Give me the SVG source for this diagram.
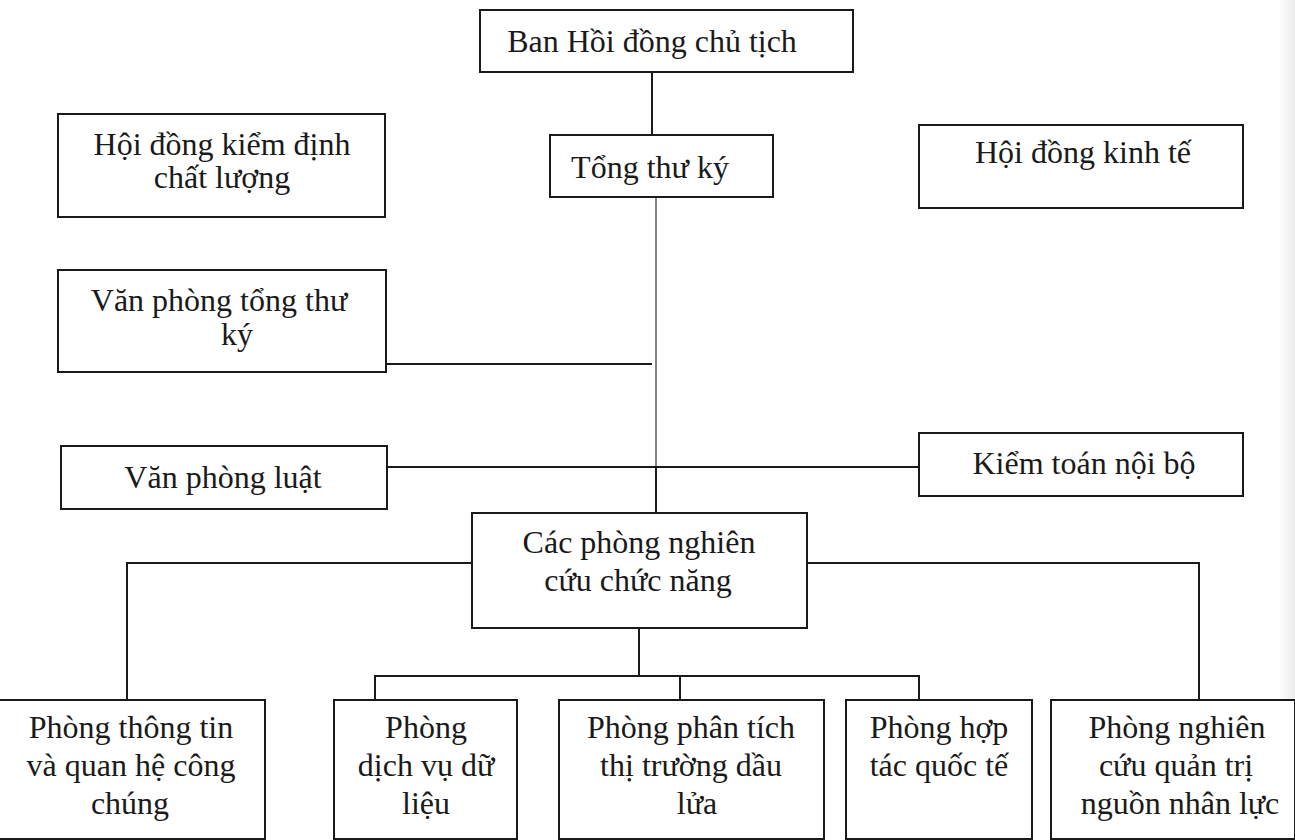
<svg xmlns="http://www.w3.org/2000/svg" width="1295" height="840" viewBox="0 0 1295 840">
  <defs>
    <linearGradient id="scan" x1="0" y1="0" x2="1" y2="0">
      <stop offset="0" stop-color="#ffffff"/>
      <stop offset="1" stop-color="#ececec"/>
    </linearGradient>
  </defs>
  <style>
    .box { fill: #ffffff; stroke: #1a1a1a; stroke-width: 2; }
    .lbl { font-family: "Liberation Serif", "Times New Roman", serif; font-size: 32px; fill: #1a1a1a; text-anchor: middle; }
    .con { fill: none; stroke: #1a1a1a; stroke-width: 2; }
    .thin { fill: none; stroke: #333333; stroke-width: 1.2; }
  </style>
  <rect x="0" y="0" width="1295" height="840" fill="#ffffff"/>
  <rect x="1278" y="0" width="17" height="840" fill="url(#scan)"/>

  <g id="connectors">
    <line class="con" x1="652" y1="72" x2="652" y2="135"/>
    <line class="thin" x1="656" y1="197" x2="656" y2="467"/>
    <line class="con" x1="656" y1="467" x2="656" y2="522"/>
    <line class="con" x1="386" y1="364" x2="652" y2="364"/>
    <line class="con" x1="387" y1="467" x2="919" y2="467"/>
    <polyline class="con" points="472,563 127,563 127,700"/>
    <polyline class="con" points="807,563 1199,563 1199,700"/>
    <line class="con" x1="639" y1="628" x2="639" y2="676"/>
    <polyline class="con" points="375,700 375,676 919,676 919,700"/>
    <line class="con" x1="680" y1="676" x2="680" y2="700"/>
  </g>

  <g id="ban-hoi-dong-chu-tich">
    <rect class="box" x="480" y="10" width="373" height="62"/>
    <text class="lbl" x="652" y="52">Ban Hồi đồng chủ tịch</text>
  </g>
  <g id="tong-thu-ky">
    <rect class="box" x="550" y="135" width="223" height="62"/>
    <text class="lbl" x="650" y="178">Tổng thư ký</text>
  </g>
  <g id="hoi-dong-kiem-dinh">
    <rect class="box" x="58" y="114" width="327" height="103"/>
    <text class="lbl" x="222" y="155">Hội đồng kiểm định</text>
    <text class="lbl" x="222" y="188">chất lượng</text>
  </g>
  <g id="hoi-dong-kinh-te">
    <rect class="box" x="919" y="125" width="324" height="83"/>
    <text class="lbl" x="1083" y="163">Hội đồng kinh tế</text>
  </g>
  <g id="van-phong-tong-thu-ky">
    <rect class="box" x="58" y="270" width="328" height="102"/>
    <text class="lbl" x="219" y="311">Văn phòng tổng thư</text>
    <text class="lbl" x="237" y="345">ký</text>
  </g>
  <g id="van-phong-luat">
    <rect class="box" x="61" y="446" width="326" height="63"/>
    <text class="lbl" x="223" y="488">Văn phòng luật</text>
  </g>
  <g id="kiem-toan-noi-bo">
    <rect class="box" x="919" y="433" width="324" height="63"/>
    <text class="lbl" x="1084" y="474">Kiểm toán nội bộ</text>
  </g>
  <g id="cac-phong-nghien-cuu">
    <rect class="box" x="472" y="513" width="335" height="115"/>
    <text class="lbl" x="639" y="553">Các phòng nghiên</text>
    <text class="lbl" x="638" y="591">cứu chức năng</text>
  </g>
  <g id="phong-thong-tin">
    <rect class="box" x="-2" y="700" width="267" height="139"/>
    <text class="lbl" x="131" y="738">Phòng thông tin</text>
    <text class="lbl" x="131" y="776">và quan hệ công</text>
    <text class="lbl" x="130" y="814">chúng</text>
  </g>
  <g id="phong-dich-vu-du-lieu">
    <rect class="box" x="334" y="700" width="183" height="139"/>
    <text class="lbl" x="426" y="738">Phòng</text>
    <text class="lbl" x="426" y="776">dịch vụ dữ</text>
    <text class="lbl" x="426" y="814">liệu</text>
  </g>
  <g id="phong-phan-tich">
    <rect class="box" x="559" y="700" width="265" height="139"/>
    <text class="lbl" x="691" y="738">Phòng phân tích</text>
    <text class="lbl" x="691" y="776">thị trường dầu</text>
    <text class="lbl" x="697" y="814">lửa</text>
  </g>
  <g id="phong-hop-tac">
    <rect class="box" x="846" y="700" width="186" height="139"/>
    <text class="lbl" x="939" y="738">Phòng hợp</text>
    <text class="lbl" x="939" y="776">tác quốc tế</text>
  </g>
  <g id="phong-nghien-cuu-quan-tri">
    <rect class="box" x="1051" y="700" width="244" height="139"/>
    <text class="lbl" x="1177" y="738">Phòng nghiên</text>
    <text class="lbl" x="1176" y="776">cứu quản trị</text>
    <text class="lbl" x="1180" y="814">nguồn nhân lực</text>
  </g>
</svg>
